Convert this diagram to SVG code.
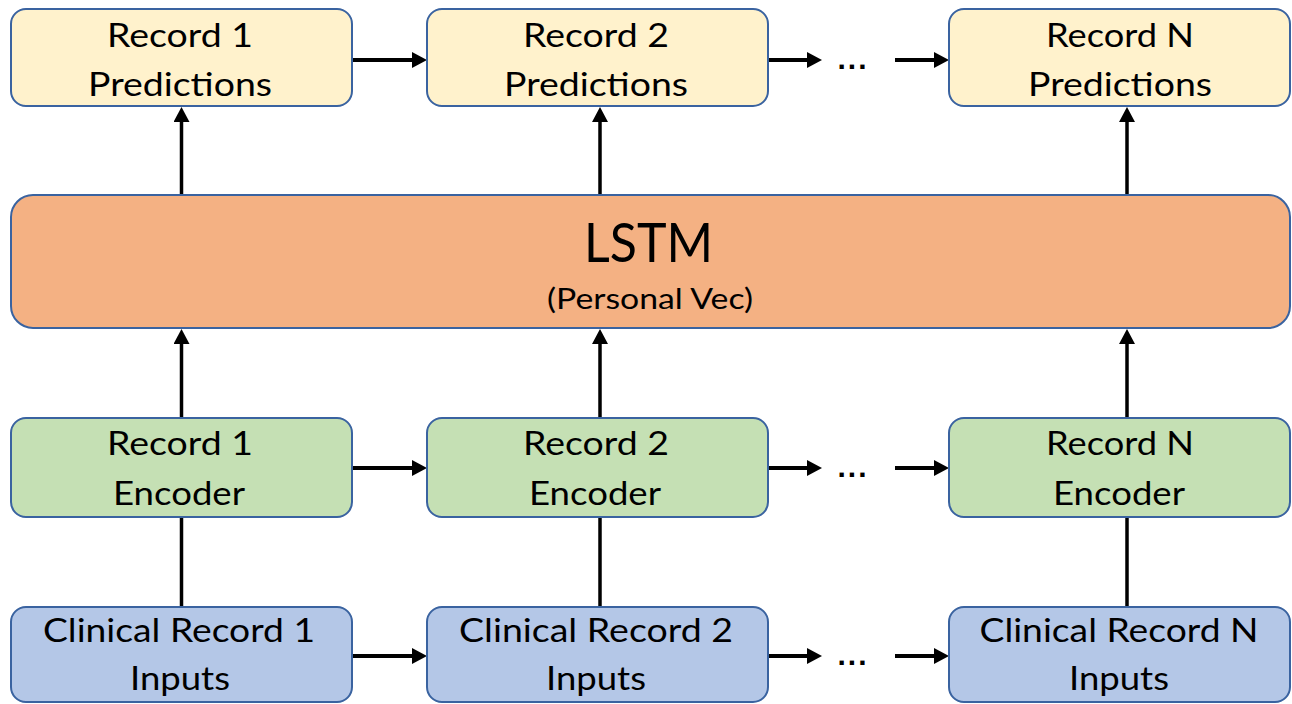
<svg xmlns="http://www.w3.org/2000/svg" width="1292" height="704" viewBox="0 0 1292 704">
  <defs>
    <style>
      .box { stroke: #3A63A0; stroke-width: 2; }
      .pred { fill: #FFF2CC; }
      .lstm { fill: #F4B183; }
      .enc { fill: #C5E0B4; }
      .inp { fill: #B4C7E7; }
      text { font-family: Lato, "Noto Sans", sans-serif; fill: #000; text-anchor: middle; }
      .lbl { font-size: 32px; }
      .big { font-size: 55px; }
      .sub { font-size: 28px; }
      .dots { font-family: "Liberation Sans", sans-serif; font-weight: bold; font-size: 30px; letter-spacing: 2px; }
      .h { stroke: #000; stroke-width: 4; fill: none; }
      .v { stroke: #000; stroke-width: 3.5; fill: none; }
    </style>
    <marker id="head" markerUnits="userSpaceOnUse" markerWidth="16" markerHeight="16" viewBox="0 0 16 16" refX="3" refY="8" orient="auto">
      <path d="M0,0 L15,8 L0,16 Z" fill="#000"/>
    </marker>
  </defs>

  <rect width="1292" height="704" fill="#fff"/>

  <!-- connectors -->
  <g id="connectors">
    <!-- prediction row -->
    <line class="h" x1="352" y1="60" x2="415" y2="60" marker-end="url(#head)"/>
    <line class="h" x1="768" y1="60" x2="810" y2="60" marker-end="url(#head)"/>
    <line class="h" x1="895" y1="60" x2="937" y2="60" marker-end="url(#head)"/>
    <!-- encoder row -->
    <line class="h" x1="352" y1="468" x2="415" y2="468" marker-end="url(#head)"/>
    <line class="h" x1="768" y1="468" x2="810" y2="468" marker-end="url(#head)"/>
    <line class="h" x1="895" y1="468" x2="937" y2="468" marker-end="url(#head)"/>
    <!-- input row -->
    <line class="h" x1="352" y1="656" x2="415" y2="656" marker-end="url(#head)"/>
    <line class="h" x1="768" y1="656" x2="810" y2="656" marker-end="url(#head)"/>
    <line class="h" x1="895" y1="656" x2="937" y2="656" marker-end="url(#head)"/>
    <!-- ellipses between record 2 and record N -->
    <text class="dots" x="853" y="69">...</text>
    <text class="dots" x="853" y="477">...</text>
    <text class="dots" x="853" y="665">...</text>
    <!-- LSTM to predictions -->
    <line class="v" x1="181.5" y1="195" x2="181.5" y2="119" marker-end="url(#head)"/>
    <line class="v" x1="600" y1="195" x2="600" y2="119" marker-end="url(#head)"/>
    <line class="v" x1="1127" y1="195" x2="1127" y2="119" marker-end="url(#head)"/>
    <!-- encoders to LSTM -->
    <line class="v" x1="181.5" y1="418" x2="181.5" y2="341" marker-end="url(#head)"/>
    <line class="v" x1="600" y1="418" x2="600" y2="341" marker-end="url(#head)"/>
    <line class="v" x1="1127" y1="418" x2="1127" y2="341" marker-end="url(#head)"/>
    <!-- inputs to encoders -->
    <line class="v" x1="181.5" y1="607" x2="181.5" y2="517"/>
    <line class="v" x1="600" y1="607" x2="600" y2="517"/>
    <line class="v" x1="1127" y1="607" x2="1127" y2="517"/>
  </g>

  <!-- prediction nodes -->
  <g id="pred1">
    <rect class="box pred" x="11" y="9" width="341" height="97" rx="15"/>
    <text class="lbl" x="180" y="47" textLength="146" lengthAdjust="spacingAndGlyphs">Record 1</text>
    <text class="lbl" x="180" y="96" textLength="184" lengthAdjust="spacingAndGlyphs">Predictions</text>
  </g>
  <g id="pred2">
    <rect class="box pred" x="427" y="9" width="341" height="97" rx="15"/>
    <text class="lbl" x="596" y="47" textLength="146" lengthAdjust="spacingAndGlyphs">Record 2</text>
    <text class="lbl" x="596" y="96" textLength="184" lengthAdjust="spacingAndGlyphs">Predictions</text>
  </g>
  <g id="predN">
    <rect class="box pred" x="949" y="9" width="341" height="97" rx="15"/>
    <text class="lbl" x="1120" y="47" textLength="148" lengthAdjust="spacingAndGlyphs">Record N</text>
    <text class="lbl" x="1120" y="96" textLength="184" lengthAdjust="spacingAndGlyphs">Predictions</text>
  </g>

  <!-- shared LSTM -->
  <g id="lstm">
    <rect class="box lstm" x="11" y="195" width="1279" height="133" rx="22"/>
    <text class="big" x="648.5" y="262" textLength="129" lengthAdjust="spacingAndGlyphs">LSTM</text>
    <text class="sub" x="650" y="309" textLength="206" lengthAdjust="spacingAndGlyphs">(Personal Vec)</text>
  </g>

  <!-- encoder nodes -->
  <g id="enc1">
    <rect class="box enc" x="11" y="418" width="341" height="99" rx="15"/>
    <text class="lbl" x="180" y="455" textLength="146" lengthAdjust="spacingAndGlyphs">Record 1</text>
    <text class="lbl" x="179" y="505" textLength="132" lengthAdjust="spacingAndGlyphs">Encoder</text>
  </g>
  <g id="enc2">
    <rect class="box enc" x="427" y="418" width="341" height="99" rx="15"/>
    <text class="lbl" x="596" y="455" textLength="146" lengthAdjust="spacingAndGlyphs">Record 2</text>
    <text class="lbl" x="595" y="505" textLength="132" lengthAdjust="spacingAndGlyphs">Encoder</text>
  </g>
  <g id="encN">
    <rect class="box enc" x="949" y="418" width="341" height="99" rx="15"/>
    <text class="lbl" x="1120" y="455" textLength="148" lengthAdjust="spacingAndGlyphs">Record N</text>
    <text class="lbl" x="1119" y="505" textLength="132" lengthAdjust="spacingAndGlyphs">Encoder</text>
  </g>

  <!-- input nodes -->
  <g id="inp1">
    <rect class="box inp" x="11" y="607" width="341" height="95" rx="15"/>
    <text class="lbl" x="179" y="642" textLength="272" lengthAdjust="spacingAndGlyphs">Clinical Record 1</text>
    <text class="lbl" x="180" y="690" textLength="100" lengthAdjust="spacingAndGlyphs">Inputs</text>
  </g>
  <g id="inp2">
    <rect class="box inp" x="427" y="607" width="341" height="95" rx="15"/>
    <text class="lbl" x="596" y="642" textLength="274" lengthAdjust="spacingAndGlyphs">Clinical Record 2</text>
    <text class="lbl" x="596" y="690" textLength="100" lengthAdjust="spacingAndGlyphs">Inputs</text>
  </g>
  <g id="inpN">
    <rect class="box inp" x="949" y="607" width="341" height="95" rx="15"/>
    <text class="lbl" x="1119" y="642" textLength="279" lengthAdjust="spacingAndGlyphs">Clinical Record N</text>
    <text class="lbl" x="1119" y="690" textLength="100" lengthAdjust="spacingAndGlyphs">Inputs</text>
  </g>
</svg>
